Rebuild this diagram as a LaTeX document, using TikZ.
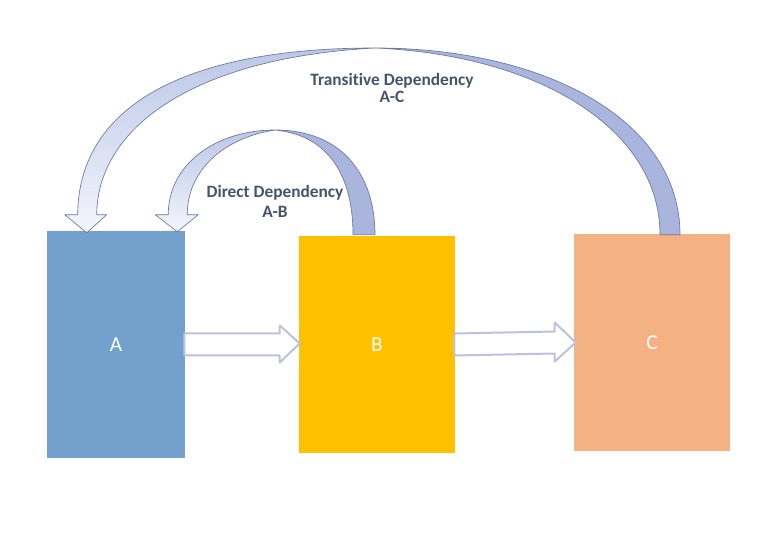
\documentclass[tikz,border=0pt]{standalone}
\usepackage{fontspec}
\setmainfont{Carlito}[Ligatures=NoCommon]
\usetikzlibrary{calc}
\definecolor{boxA}{HTML}{74A0CD}
\definecolor{boxB}{HTML}{FFC000}
\definecolor{boxC}{HTML}{F4B183}
\definecolor{arrline}{HTML}{BCC1DF}
\definecolor{bandline}{HTML}{6B789F}
\definecolor{bandback}{HTML}{A9B5DC}
\definecolor{bandtop}{HTML}{BCC6E7}
\definecolor{bandlow}{HTML}{F4F6FC}
\definecolor{lbltext}{HTML}{44546A}

\begin{document}
\begin{tikzpicture}[
  x=0.75pt, y=-0.75pt,
  box/.style={inner sep=0pt, minimum width=117pt, minimum height=162.75pt,
    font=\fontsize{16}{18}\selectfont, text=white},
  flat/.style={draw=arrline, line width=1.5pt, fill=white, line join=round},
  front/.style={draw=bandline, line width=0.5pt, line join=round,
    top color=bandtop, bottom color=bandlow},
  back/.style={draw=bandline, line width=0.5pt, fill=bandback},
  lbl/.style={align=center, font=\bfseries\fontsize{13}{12.75}\selectfont, text=lbltext}
]
\useasboundingbox (0,0) rectangle (768,538);

\node[box, fill=boxA, minimum width=103.5pt, minimum height=170.25pt] (A) at (116,344.5) {A};
\node[box, fill=boxB] (B) at (377,344.5) {B};
\node[box, fill=boxC] (C) at (652,342.5) {C};

% straight arrows
\draw[flat] ($(A.east)+(-1,-11)$) -- ($(B.west)+(-19,-11)$) -- ($(B.west)+(-19,-19)$)
  -- ($(B.west)+(1,-1)$) -- ($(B.west)+(-19,18)$) -- ($(B.west)+(-19,11)$)
  -- ($(A.east)+(-1,11)$) -- cycle;
\draw[flat] ($(B.east)+(-1,-11)$) -- ($(C.west)+(-19,-11)$) -- ($(C.west)+(-19,-20)$)
  -- ($(C.west)+(2,0)$) -- ($(C.west)+(-19,19)$) -- ($(C.west)+(-19,11)$)
  -- ($(B.east)+(-1,11)$) -- cycle;

% curved arrows
\coordinate (dtip) at ($(A.north east)+(-8,1)$);
\coordinate (ttip) at ($(A.north west)+(40,2)$);
\coordinate (dtail) at ($(B.north)+(-13,-1)$);
\coordinate (ttail) at ($(C.north)+(18,1)$);

\draw[back] (275,130) .. controls (342,130) and ($(dtail)+(11,-60)$) .. ($(dtail)+(11,0)$)
  -- ($(dtail)+(-11,0)$) .. controls ($(dtail)+(-11,-50)$) and (335,136) .. (275,130) -- cycle;
\draw[front] (275,130) .. controls (215,130) and (168,165) .. ($(dtip)+(-9,-17)$)
  -- ($(dtip)+(-22,-17)$) -- (dtip) -- ($(dtip)+(21,-17)$) -- ($(dtip)+(10,-17)$)
  .. controls (187,172) and (222,138) .. (275,130) -- cycle;

\draw[back] (375,48) .. controls (545,48) and ($(ttail)+(10,-115)$) .. ($(ttail)+(10,0)$)
  -- ($(ttail)+(-10,0)$) .. controls ($(ttail)+(-10,-105)$) and (540,55) .. (375,48) -- cycle;
\draw[front] (375,48) .. controls (170,48) and (78,115) .. ($(ttip)+(-9,-18)$)
  -- ($(ttip)+(-22,-18)$) -- (ttip) -- ($(ttip)+(20,-18)$) -- ($(ttip)+(10,-18)$)
  .. controls (97,130) and (190,58) .. (375,48) -- cycle;

\node[lbl] (trans) at (392,88) {Transitive Dependency\\A-C};
\node[lbl] (direct) at (275,201) {Direct Dependency\\[2.25pt]A-B};

\end{tikzpicture}
\end{document}
